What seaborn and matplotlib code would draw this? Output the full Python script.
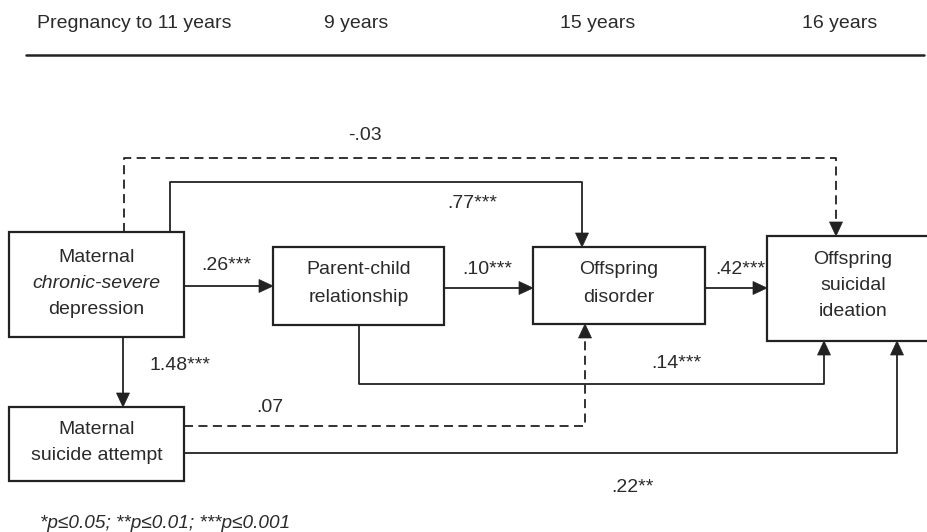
import matplotlib
matplotlib.use("Agg")
import matplotlib.pyplot as plt
import seaborn as sns
from matplotlib.patches import Rectangle, Polygon

# ---------------- data (text content) ----------------
header_labels = ["Pregnancy to 11 years", "9 years", "15 years", "16 years"]
node_keys = ["dep", "pcr", "dis", "ide", "att"]
node_lines = [
    ["Maternal", "chronic-severe", "depression"],
    ["Parent-child", "relationship"],
    ["Offspring", "disorder"],
    ["Offspring", "suicidal", "ideation"],
    ["Maternal", "suicide attempt"],
]
node_italic = [[False, True, False], [False, False], [False, False],
               [False, False, False], [False, False]]
path_from = ["dep", "pcr", "dis", "dep", "dep", "pcr", "dep", "att", "att"]
path_to = ["pcr", "dis", "ide", "dis", "ide", "ide", "att", "dis", "ide"]
path_coef = [".26***", ".10***", ".42***", ".77***", "-.03", ".14***",
             "1.48***", ".07", ".22**"]
path_significant = [True, True, True, True, False, True, True, False, True]
footnote = "*p\u22640.05; **p\u22640.01; ***p\u22640.001"

# ---------------- layout (pixel space) ----------------
W, H = 928, 532
header_x = [37, 324, 560, 802]
header_y = 23
rule_y, rule_x0, rule_x1 = 55, 26, 924
box = {  # x0, x1, y0, y1
    "dep": (9, 184, 232, 337),
    "pcr": (273, 444, 247, 325),
    "dis": (533, 705, 247, 324),
    "ide": (767, 939, 236, 341),
    "att": (9, 184, 407, 481),
}
line_y = {
    "dep": [257, 283, 309],
    "pcr": [270, 297],
    "dis": [270, 297],
    "ide": [259, 286, 312],
    "att": [429, 456],
}
waypoints = [
    [(184, 286), (273, 286)],
    [(444, 288), (533, 288)],
    [(705, 288), (767, 288)],
    [(170, 232), (170, 182), (582, 182), (582, 247)],
    [(124, 232), (124, 158), (836, 158), (836, 236)],
    [(359, 325), (359, 384), (824, 384), (824, 341)],
    [(123, 337), (123, 407)],
    [(184, 426), (585, 426), (585, 324)],
    [(184, 453), (897, 453), (897, 341)],
]
label_pos = [(226, 265), (487, 270), (740, 270), (472, 203), (365, 136),
             (676, 363), (180, 366), (270, 407), (632, 487)]

ink = "#222222"
txt = "#2a2a2a"
fs = 14.0

sns.set_theme(style="white")
plt.rcParams["font.family"] = ["Liberation Sans", "DejaVu Sans"]

fig = plt.figure(figsize=(W / 100, H / 100), dpi=100)
ax = fig.add_axes([0, 0, 1, 1])
ax.set_xlim(0, W)
ax.set_ylim(H, 0)
ax.axis("off")

# header
for lab, x in zip(header_labels, header_x):
    ax.text(x, header_y, lab, ha="left", va="center", fontsize=fs, color=txt)
sns.lineplot(x=[rule_x0, rule_x1], y=[rule_y, rule_y], ax=ax, color=ink,
             lw=1.8, sort=False, estimator=None)

# boxes
for key, lines, ital in zip(node_keys, node_lines, node_italic):
    x0, x1, y0, y1 = box[key]
    ax.add_patch(Rectangle((x0, y0), x1 - x0, y1 - y0, fill=True,
                           facecolor="white", edgecolor=ink, lw=1.6, zorder=3))
    cx = (x0 + x1) / 2
    for ln, it, yy in zip(lines, ital, line_y[key]):
        ax.text(cx, yy, ln, ha="center", va="center", fontsize=fs, color=txt,
                style="italic" if it else "normal", zorder=4)

# paths
def arrowhead(p_prev, p_tip, length=14, half=6.5):
    (xa, ya), (xb, yb) = p_prev, p_tip
    dx, dy = xb - xa, yb - ya
    n = (dx * dx + dy * dy) ** 0.5
    ux, uy = dx / n, dy / n
    bx, by = xb - ux * length, yb - uy * length
    pts = [(xb, yb), (bx - uy * half, by + ux * half), (bx + uy * half, by - ux * half)]
    ax.add_patch(Polygon(pts, closed=True, facecolor=ink, edgecolor=ink,
                         lw=0.5, zorder=5))
    return (bx, by)

for pts, coef, sig, lp in zip(waypoints, path_coef, path_significant, label_pos):
    base = arrowhead(pts[-2], pts[-1])
    xs = [p[0] for p in pts[:-1]] + [base[0]]
    ys = [p[1] for p in pts[:-1]] + [base[1]]
    sns.lineplot(x=xs, y=ys, ax=ax, color=ink, lw=1.3, sort=False,
                 estimator=None)
    l = ax.lines[-1]
    if not sig:
        l.set_dashes([5, 3])
    l.set_zorder(2)
    ax.text(lp[0], lp[1], coef, ha="center", va="center", fontsize=fs, color=txt)

ax.text(40, 523, footnote, ha="left", va="center", fontsize=fs - 0.3,
        color=txt, style="italic")

fig.savefig("out.png", dpi=100)
